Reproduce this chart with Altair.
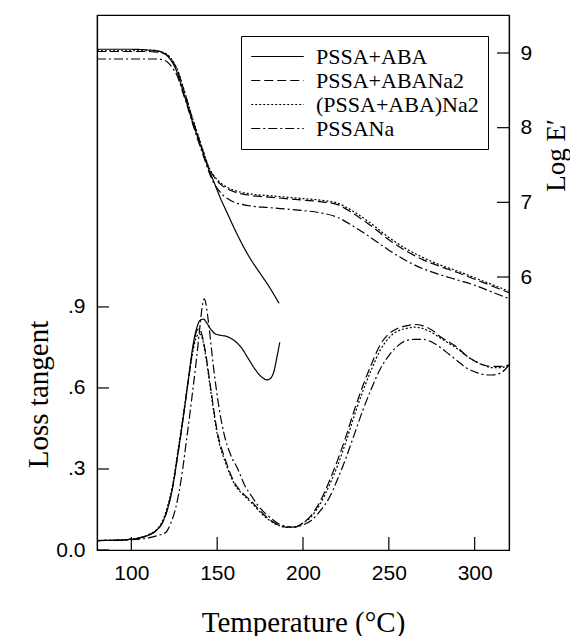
import altair as alt
import pandas as pd

series = ["PSSA+ABA", "PSSA+ABANa2", "(PSSA+ABA)Na2", "PSSANa"]
dashes = [[1, 0], [9, 4], [2, 2], [9, 3, 2, 3]]

# ---- Log E' (right axis) ----
E_T_ABA = [80, 100, 110, 115, 118, 121, 124, 127, 130, 133, 136, 139, 142, 145, 148,
           152, 156, 160, 165, 170, 175, 180, 186]
E_ABA = [9.05, 9.05, 9.04, 9.03, 9.01, 8.96, 8.87, 8.72, 8.50, 8.28, 8.05, 7.85, 7.65, 7.45, 7.28,
         7.05, 6.85, 6.65, 6.42, 6.22, 6.05, 5.88, 5.65]

E_T = [80, 100, 110, 115, 118, 121, 124, 127, 130, 133, 136, 139, 142, 145, 148, 152, 156, 160,
       165, 170, 180, 190, 200, 210, 220, 230, 240, 250, 260, 270, 280, 290, 300, 310, 320]
E_ABANA2 = [9.02, 9.02, 9.02, 9.01, 9.00, 8.97, 8.89, 8.76, 8.55, 8.32, 8.09, 7.88, 7.67, 7.47, 7.35,
            7.24, 7.18, 7.14, 7.11, 7.09, 7.07, 7.05, 7.03, 7.01, 6.97, 6.84, 6.68, 6.50, 6.35, 6.23,
            6.14, 6.06, 5.97, 5.88, 5.79]
E_ABA_NA2 = [9.03, 9.03, 9.03, 9.02, 9.01, 8.98, 8.90, 8.77, 8.56, 8.33, 8.10, 7.89, 7.68, 7.48, 7.36,
             7.26, 7.20, 7.16, 7.13, 7.11, 7.09, 7.07, 7.05, 7.03, 6.99, 6.87, 6.71, 6.53, 6.38, 6.26,
             6.16, 6.08, 5.99, 5.90, 5.81]
E_NA = [8.92, 8.92, 8.92, 8.92, 8.91, 8.88, 8.80, 8.68, 8.47, 8.26, 8.03, 7.82, 7.62, 7.42, 7.26,
        7.13, 7.05, 7.00, 6.97, 6.95, 6.93, 6.91, 6.89, 6.86, 6.80, 6.67, 6.52, 6.36, 6.22, 6.11,
        6.03, 5.96, 5.89, 5.80, 5.71]

# ---- Loss tangent (left axis) ----
LT_T_ABA = [80, 90, 100, 105, 110, 115, 118, 121, 124, 127, 130, 133, 136, 138, 140, 142, 144, 146,
            149, 152, 156, 160, 164, 168, 172, 176, 179, 181, 183, 185, 186.5]
LT_ABA = [0.035, 0.036, 0.040, 0.045, 0.055, 0.075, 0.10, 0.15, 0.23, 0.35, 0.48, 0.62, 0.76, 0.82,
          0.85, 0.855, 0.84, 0.82, 0.80, 0.795, 0.79, 0.775, 0.75, 0.71, 0.67, 0.64, 0.63, 0.635,
          0.66, 0.72, 0.77]

LT_T = [80, 90, 100, 105, 110, 115, 118, 121, 124, 127, 130, 133, 136, 138, 139.5, 141, 143, 146,
        150, 155, 160, 165, 170, 175, 180, 185, 190, 195, 200, 205, 210, 215, 220, 225, 230, 235,
        240, 245, 250, 255, 260, 265, 270, 275, 280, 285, 290, 295, 300, 305, 310, 315, 320]
LT_ABANA2 = [0.035, 0.036, 0.040, 0.045, 0.055, 0.075, 0.10, 0.15, 0.23, 0.35, 0.48, 0.62, 0.75,
             0.81, 0.82, 0.80, 0.74, 0.61, 0.44, 0.33, 0.25, 0.21, 0.18, 0.145, 0.115, 0.095, 0.085,
             0.085, 0.10, 0.13, 0.18, 0.25, 0.33, 0.42, 0.52, 0.61, 0.69, 0.76, 0.80, 0.82, 0.83,
             0.835, 0.83, 0.815, 0.79, 0.77, 0.75, 0.72, 0.70, 0.685, 0.68, 0.68, 0.685]
LT_ABA_NA2 = [0.035, 0.036, 0.040, 0.046, 0.057, 0.078, 0.105, 0.16, 0.24, 0.36, 0.49, 0.62, 0.74,
              0.79, 0.80, 0.79, 0.73, 0.60, 0.43, 0.32, 0.245, 0.205, 0.175, 0.14, 0.112, 0.093,
              0.084, 0.086, 0.10, 0.125, 0.17, 0.235, 0.31, 0.40, 0.50, 0.59, 0.67, 0.74, 0.785,
              0.81, 0.82, 0.825, 0.82, 0.805, 0.785, 0.765, 0.745, 0.72, 0.70, 0.685, 0.675, 0.675,
              0.685]
LT_T_NA = [80, 100, 110, 115, 120, 123, 126, 129, 132, 135, 138, 140, 141.5, 142.5, 143.5, 145, 148,
           151, 154, 158, 162, 166, 170, 175, 180, 185, 190, 195, 200, 205, 210, 215, 220, 225, 230,
           235, 240, 245, 250, 255, 260, 265, 270, 275, 280, 285, 290, 295, 300, 305, 310, 315, 320]
LT_NA = [0.035, 0.038, 0.045, 0.053, 0.065, 0.10, 0.16, 0.26, 0.40, 0.55, 0.71, 0.83, 0.91, 0.93,
         0.91, 0.84, 0.67, 0.53, 0.43, 0.35, 0.30, 0.24, 0.20, 0.155, 0.125, 0.10, 0.088, 0.085,
         0.093, 0.11, 0.145, 0.19, 0.26, 0.34, 0.43, 0.52, 0.60, 0.67, 0.72, 0.755, 0.775, 0.78,
         0.78, 0.77, 0.75, 0.725, 0.70, 0.675, 0.66, 0.65, 0.648, 0.655, 0.685]

X_TICKS = [100, 150, 200, 250, 300]
LT_TICKS = [0.0, 0.3, 0.6, 0.9]
E_TICKS = [6, 7, 8, 9]

W, H = 412, 535
SANS = "Liberation Sans"
SERIF = "Liberation Serif"


def frame(t, v, name):
    return pd.DataFrame({"T": t, "v": v, "series": name})


lt_df = pd.concat([
    frame(LT_T_ABA, LT_ABA, series[0]),
    frame(LT_T, LT_ABANA2, series[1]),
    frame(LT_T, LT_ABA_NA2, series[2]),
    frame(LT_T_NA, LT_NA, series[3]),
])
e_df = pd.concat([
    frame(E_T_ABA, E_ABA, series[0]),
    frame(E_T, E_ABANA2, series[1]),
    frame(E_T, E_ABA_NA2, series[2]),
    frame(E_T, E_NA, series[3]),
])

x_enc = alt.X(
    "T:Q",
    scale=alt.Scale(domain=[80, 320], nice=False, zero=False),
    axis=alt.Axis(values=X_TICKS, ticks=False, labelPadding=12, labelFont=SANS,
                  labelFontSize=21, title="Temperature (°C)", titleFont=SERIF,
                  titleFontSize=29, titleFontWeight="normal", titleY=72,
                  titleBaseline="middle"),
)

lt_y = alt.Y(
    "v:Q",
    scale=alt.Scale(domain=[0, 1.981], nice=False, zero=False),
    axis=alt.Axis(values=LT_TICKS, ticks=False, labelPadding=12, labelFont=SANS,
                  labelFontSize=21,
                  labelExpr="datum.value == 0 ? '0.0' : replace(format(datum.value, '.1f'), '0.', '.')",
                  title="Loss tangent", titleFont=SERIF, titleFontSize=29,
                  titleFontWeight="normal", titleAngle=-90, titleX=-59, titleY=379,
                  titleAlign="center", titleBaseline="middle"),
)

e_y = alt.Y(
    "v:Q",
    scale=alt.Scale(domain=[2.344, 9.509], nice=False, zero=False),
    axis=alt.Axis(orient="right", values=E_TICKS, ticks=False, labelPadding=11,
                  labelFont=SANS, labelFontSize=21, format="d",
                  title="Log E′", titleFont=SERIF, titleFontSize=27,
                  titleFontWeight="normal", titleAngle=-90, titleX=55, titleY=140,
                  titleAlign="center", titleBaseline="alphabetic"),
)

dash_enc = alt.StrokeDash(
    "series:N",
    scale=alt.Scale(domain=series, range=dashes),
    sort=series,
    legend=alt.Legend(title=None, orient="top-right", offset=21, strokeColor="black",
                      fillColor="white", padding=9, symbolType="M-2.5,0H2.5", symbolSize=441,
                      symbolOffset=16, symbolStrokeWidth=1.2, symbolStrokeColor="black",
                      labelFont=SERIF, labelFontSize=22, labelOffset=27, labelLimit=400,
                      rowPadding=1, labelColor="black"),
)

lt_lines = alt.Chart(lt_df).mark_line(color="black", strokeWidth=1.2, interpolate="monotone").encode(
    x=x_enc, y=lt_y, strokeDash=dash_enc, detail="series:N")
e_lines = alt.Chart(e_df).mark_line(color="black", strokeWidth=1.2, interpolate="monotone").encode(
    x=x_enc, y=e_y, strokeDash=dash_enc, detail="series:N")

lt_rules = alt.Chart(pd.DataFrame({"v": LT_TICKS})).mark_rule(color="black", strokeWidth=1.2).encode(
    y=lt_y, x=alt.value(0), x2=alt.value(12))
x_rules = alt.Chart(pd.DataFrame({"T": X_TICKS})).mark_rule(color="black", strokeWidth=1.2).encode(
    x=x_enc, y=alt.value(H - 13), y2=alt.value(H))
e_rules = alt.Chart(pd.DataFrame({"v": E_TICKS})).mark_rule(color="black", strokeWidth=1.2).encode(
    y=e_y, x=alt.value(W - 12), x2=alt.value(W))

left = alt.layer(lt_lines, lt_rules, x_rules)
right = alt.layer(e_lines, e_rules)

chart = alt.layer(left, right).resolve_scale(y="independent").properties(
    width=W, height=H,
    padding={"left": 89, "top": 7, "right": 61, "bottom": 86},
    autosize=alt.AutoSizeParams(type="none"),
    background="white",
).configure_view(stroke="black", strokeWidth=1.2).configure_axis(
    domainColor="black", domainWidth=1.2, labelColor="black", titleColor="black", grid=False
)

chart.save("out.html", embed_options={"renderer": "svg", "actions": False})
